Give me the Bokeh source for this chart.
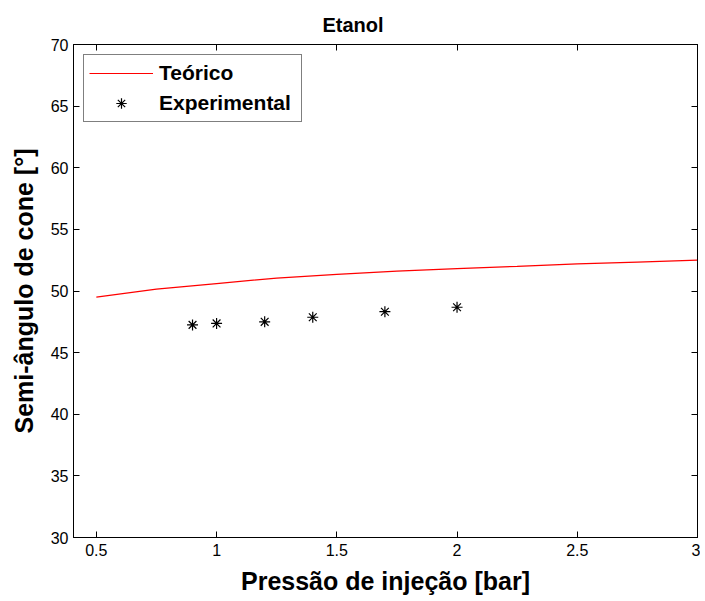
from bokeh.plotting import figure
from bokeh.models import Range1d, LinearAxis, FixedTicker, Legend, LegendItem, Title
from bokeh.models.formatters import CustomJSTickFormatter
from bokeh.embed import file_html
from bokeh.resources import INLINE

# Data
teorico_x = [0.5, 0.75, 1.0, 1.25, 1.5, 1.75, 2.0, 2.25, 2.5, 2.75, 3.0]
teorico_y = [49.5, 50.15, 50.6, 51.05, 51.35, 51.62, 51.82, 52.0, 52.2, 52.35, 52.5]
exp_x = [0.9, 1.0, 1.2, 1.4, 1.7, 2.0]
exp_y = [47.25, 47.37, 47.5, 47.87, 48.32, 48.68]
x_ticks = [0.5, 1, 1.5, 2, 2.5, 3]
y_ticks = [30, 35, 40, 45, 50, 55, 60, 65, 70]
title_text = "Etanol"

FONT = "Liberation Sans"

p = figure(frame_width=624, frame_height=493, output_backend="svg", toolbar_location=None,
           x_range=Range1d(0.405, 3.0), y_range=Range1d(30, 70),
           min_border_left=73, min_border_top=44, min_border_right=3, min_border_bottom=58,
           background_fill_color="white", border_fill_color="white")
p.title = None

p.xgrid.visible = False
p.ygrid.visible = False
p.outline_line_color = "black"
p.outline_line_width = 1

for ax, ticks in ((p.xaxis[0], x_ticks), (p.yaxis[0], y_ticks)):
    ax.ticker = FixedTicker(ticks=ticks)
    ax.minor_tick_line_color = None
    ax.major_tick_in = 6
    ax.major_tick_out = 0
    ax.axis_line_color = "black"
    ax.major_tick_line_color = "black"
    ax.major_label_text_font = FONT
    ax.major_label_text_font_size = "16px"
    ax.major_label_text_color = "black"
    ax.axis_label_text_font = FONT
    ax.axis_label_text_font_size = "25px"
    ax.axis_label_text_font_style = "bold"
    ax.axis_label_text_color = "black"

p.xaxis[0].axis_label = "Pressão de injeção [bar]"
p.xaxis[0].major_label_standoff = 6
p.xaxis[0].axis_label_standoff = 8
p.xaxis[0].formatter = CustomJSTickFormatter(code="return String(tick);")
p.yaxis[0].axis_label = "Semi-ângulo de cone [°]"
p.yaxis[0].major_label_standoff = 5
p.yaxis[0].axis_label_standoff = 10

# mirrored axes (box) - added before the title so they sit on the frame
for loc, ticks in (("right", y_ticks), ("above", x_ticks)):
    a = LinearAxis(ticker=FixedTicker(ticks=ticks),
                   formatter=CustomJSTickFormatter(code="return '';"),
                   major_tick_in=6, major_tick_out=0, minor_tick_line_color=None,
                   axis_line_color="black", major_tick_line_color="black",
                   major_label_standoff=0)
    p.add_layout(a, loc)

p.add_layout(Title(text=title_text, align="left", offset=249, text_font=FONT,
                   text_font_size="20px", text_font_style="bold", text_color="black",
                   standoff=18), "above")

r_line = p.line(teorico_x, teorico_y, line_color="red", line_width=1.2)
r_pts = p.scatter(exp_x, exp_y, marker="asterisk", size=11, line_color="black", line_width=1.2)

legend = Legend(items=[LegendItem(label="Teórico", renderers=[r_line]),
                       LegendItem(label="Experimental", renderers=[r_pts])],
                location="top_left", margin=10, padding=5, spacing=4,
                glyph_width=64, glyph_height=26, label_height=26, label_width=137,
                label_standoff=6, label_text_font=FONT, label_text_font_size="21px",
                label_text_font_style="bold", label_text_color="black",
                border_line_color="black", border_line_width=1,
                background_fill_color="white", background_fill_alpha=1)
p.add_layout(legend, "center")

open("out.html", "w").write(file_html(p, INLINE))
